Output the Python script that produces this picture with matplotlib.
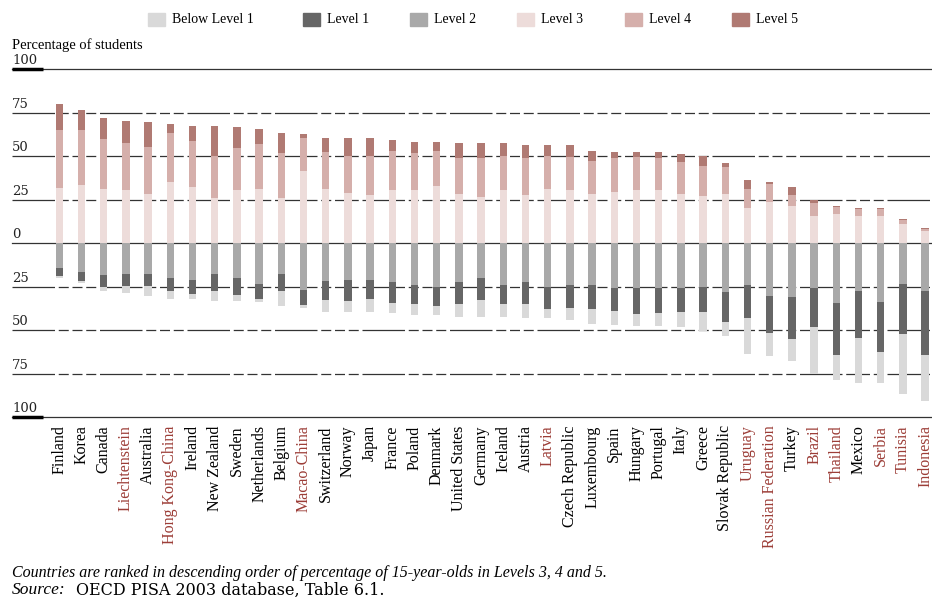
import matplotlib
matplotlib.use('Agg')
import matplotlib.pyplot as plt
import matplotlib.transforms as mtransforms
from matplotlib.patches import Rectangle

countries = ['Finland', 'Korea', 'Canada', 'Liechtenstein', 'Australia', 'Hong Kong-China',
             'Ireland', 'New Zealand', 'Sweden', 'Netherlands', 'Belgium', 'Macao-China',
             'Switzerland', 'Norway', 'Japan', 'France', 'Poland', 'Denmark', 'United States',
             'Germany', 'Iceland', 'Austria', 'Latvia', 'Czech Republic', 'Luxembourg', 'Spain',
             'Hungary', 'Portugal', 'Italy', 'Greece', 'Slovak Republic', 'Uruguay',
             'Russian Federation', 'Turkey', 'Brazil', 'Thailand', 'Mexico', 'Serbia',
             'Tunisia', 'Indonesia']
partners = ['Liechtenstein', 'Hong Kong-China', 'Macao-China', 'Latvia', 'Uruguay',
            'Russian Federation', 'Brazil', 'Thailand', 'Serbia', 'Tunisia', 'Indonesia']

# percentages of students at each level
level5 = [14.7, 11.8, 12.6, 12.6, 14.0, 5.3, 8.8, 17.0, 12.0, 8.6, 11.9, 2.3, 8.2, 10.1,
          10.1, 6.5, 6.7, 5.1, 8.4, 8.4, 7.1, 7.4, 6.1, 7.1, 5.8, 3.2, 3.3, 3.6, 4.7, 5.7,
          2.5, 5.2, 1.3, 4.4, 1.9, 0.4, 0.3, 0.3, 0.9, 0.6]
level4 = [33.4, 31.5, 28.5, 27.4, 27.4, 28.1, 26.3, 24.2, 24.2, 25.6, 25.5, 19.1, 21.0, 21.4,
          22.9, 22.5, 21.3, 20.1, 21.0, 22.6, 20.0, 21.6, 19.1, 19.0, 19.4, 19.7, 19.0, 18.7,
          18.5, 17.2, 15.6, 11.1, 10.5, 6.5, 7.1, 3.8, 3.9, 3.9, 1.9, 1.1]
level3 = [31.7, 33.3, 31.0, 30.2, 27.9, 34.9, 32.1, 26.0, 30.2, 31.1, 26.0, 41.2, 31.1, 28.8,
          27.3, 30.2, 30.2, 33.0, 27.9, 26.3, 30.2, 27.3, 31.1, 30.2, 27.9, 29.2, 30.2, 30.2,
          27.9, 26.9, 27.9, 20.0, 23.5, 21.2, 15.8, 16.8, 15.8, 15.8, 11.1, 6.9]
level2 = [14.6, 16.9, 18.2, 18.1, 18.1, 20.4, 21.4, 18.1, 20.4, 23.3, 18.1, 27.1, 21.9, 21.4,
          21.4, 22.3, 24.2, 25.2, 22.3, 20.4, 24.2, 22.3, 25.2, 24.2, 24.2, 26.1, 26.1, 26.1,
          25.8, 25.2, 28.1, 24.2, 30.3, 31.3, 25.8, 34.4, 27.7, 33.8, 23.3, 27.5]
level1 = [4.6, 5.1, 7.0, 6.7, 6.7, 7.3, 8.0, 9.6, 9.6, 8.8, 9.6, 8.6, 10.9, 11.8, 10.9, 11.9,
          11.1, 10.9, 12.8, 12.4, 11.1, 13.0, 12.8, 13.4, 14.0, 13.0, 14.9, 14.4, 13.7, 14.3,
          17.1, 19.1, 21.2, 24.0, 22.3, 29.9, 26.7, 29.0, 29.2, 36.8]
below1 = [1.1, 1.2, 2.5, 4.2, 5.5, 4.6, 2.9, 5.5, 3.2, 1.7, 8.4, 1.9, 6.7, 6.3, 7.2, 6.3,
          6.1, 5.3, 7.3, 9.6, 7.1, 8.0, 5.3, 6.7, 8.4, 8.0, 6.5, 7.0, 9.0, 10.9, 8.2, 20.4,
          13.2, 12.3, 27.3, 14.3, 25.8, 17.4, 34.1, 26.7]

legend_labels = ['Below Level 1', 'Level 1', 'Level 2', 'Level 3', 'Level 4', 'Level 5']
colors = ['#d9d9d9', '#666666', '#a9a9a9', '#eddcda', '#d5afab', '#b07a73']
red = '#9c3d37'
serif = ['Liberation Serif', 'DejaVu Serif']
wide = ['DejaVu Serif']

fig = plt.figure(figsize=(9.32, 5.97), dpi=100)
ax = fig.add_axes([12 / 932, 1 - 417 / 597, 920 / 932, 348 / 597])
ax.set_xlim(-2.13, 39.31)
ax.set_ylim(-100, 100)
for s in ax.spines.values():
    s.set_visible(False)

x = list(range(len(countries)))
w = 0.34

# gridlines
dash = (0, (34, 3, 8, 3, 8, 3, 8, 3))
for v in [25, 50, 75, -25, -50, -75]:
    ax.axhline(v, color='#333333', lw=0.9, ls=dash, zorder=1)
for v in [0, 100, -100]:
    ax.axhline(v, color='#333333', lw=0.9, zorder=1, clip_on=False)
for v in [100, -100]:
    ax.plot([0, 31 / 920], [v, v], transform=ax.get_yaxis_transform(),
            color='black', lw=2.5, solid_capstyle='butt', zorder=3, clip_on=False)

# positive stack
ax.bar(x, level3, w, color=colors[3], zorder=2)
ax.bar(x, level4, w, bottom=level3, color=colors[4], zorder=2)
b5 = [a + b for a, b in zip(level3, level4)]
ax.bar(x, level5, w, bottom=b5, color=colors[5], zorder=2)

# negative stack
ax.bar(x, [-v for v in level2], w, color=colors[2], zorder=2)
ax.bar(x, [-v for v in level1], w, bottom=[-v for v in level2], color=colors[1], zorder=2)
ax.bar(x, [-v for v in below1], w, bottom=[-(a + b) for a, b in zip(level2, level1)],
       color=colors[0], zorder=2)

# y labels above the lines
trans = mtransforms.blended_transform_factory(ax.transAxes, ax.transData)
for v in [100, 75, 50, 25, 0, -25, -50, -75, -100]:
    ax.text(0.0, v + 1.0, str(abs(v)), transform=trans, ha='left', va='bottom',
            fontsize=9.5, family=wide, color='#222222')
ax.set_yticks([])

ax.set_xticks(x)
ax.set_xticklabels(countries, rotation=90, family=serif, fontsize=11.5)
for lab, c in zip(ax.get_xticklabels(), countries):
    lab.set_color(red if c in partners else 'black')
ax.tick_params(axis='x', length=0, pad=6)

fig.text(12 / 932, 1 - 45 / 597, 'Percentage of students', family=serif, fontsize=10.5,
         ha='left', va='center')

# legend
lx = [148, 303, 410, 517, 625, 732]
for px, lab, c in zip(lx, legend_labels, colors):
    fig.patches.append(Rectangle((px / 932, 1 - 26 / 597), 17 / 932, 13 / 597,
                                 transform=fig.transFigure, color=c, figure=fig))
    fig.text((px + 24) / 932, 1 - 19.5 / 597, lab, family=serif, fontsize=10,
             ha='left', va='center')

fig.text(12 / 932, 1 - 573 / 597,
         'Countries are ranked in descending order of percentage of 15-year-olds in Levels 3, 4 and 5.',
         family=serif, style='italic', fontsize=11.5, ha='left', va='center')
fig.text(12 / 932, 1 - 590 / 597, 'Source:', family=serif, style='italic', fontsize=12.5,
         ha='left', va='center')
fig.text(76 / 932, 1 - 590 / 597, 'OECD PISA 2003 database, Table 6.1.', family=wide,
         fontsize=11.5, ha='left', va='center')

fig.savefig('out.png', dpi=100)
